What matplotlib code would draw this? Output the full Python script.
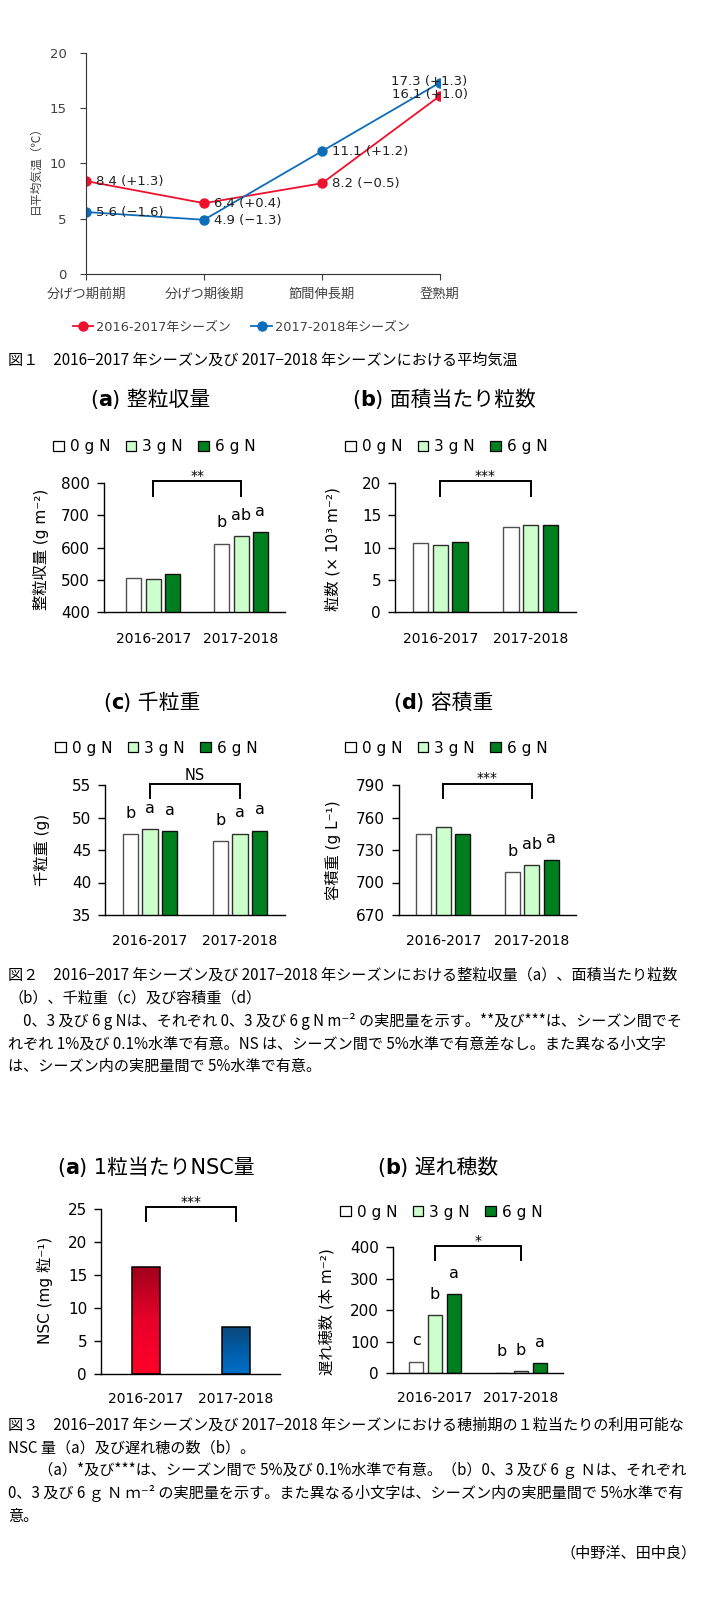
import matplotlib
matplotlib.use('Agg')
import matplotlib.pyplot as plt
import matplotlib.transforms as mtransforms
import numpy as np
from matplotlib.patches import Patch
from matplotlib.lines import Line2D
from matplotlib.colors import LinearSegmentedColormap

plt.rcParams['font.family'] = ['DejaVu Sans', 'Noto Sans CJK JP']
JP = ['Noto Sans CJK JP', 'DejaVu Sans']

# ---- data ----
stages = ['分げつ期前期', '分げつ期後期', '節間伸長期', '登熟期']
temp_1617 = [8.4, 6.4, 8.2, 16.1]
temp_1718 = [5.6, 4.9, 11.1, 17.3]
diff_1617 = ['+1.3', '+0.4', '−0.5', '+1.0']
diff_1718 = ['−1.6', '−1.3', '+1.2', '+1.3']
season_names = ['2016-2017年シーズン', '2017-2018年シーズン']

seasons = ['2016-2017', '2017-2018']
n_levels = ['0 g N', '3 g N', '6 g N']

whole_yield = [[505, 502, 517], [612, 635, 648]]
grain_num = [[10.7, 10.4, 10.8], [13.2, 13.4, 13.5]]
tgw = [[47.4, 48.2, 47.9], [46.4, 47.5, 48.0]]
vol_wt = [[744.5, 751, 744.5], [709.5, 716, 721]]
nsc = [16.3, 7.2]
late_pan = [[37, 185, 251], [2, 7, 32]]

yield_letters = [['', '', ''], ['b', 'ab', 'a']]
tgw_letters = [['b', 'a', 'a'], ['b', 'a', 'a']]
vol_letters = [['', '', ''], ['b', 'ab', 'a']]
late_letters = [['c', 'b', 'a'], ['b', 'b', 'a']]

cap1 = '図１　2016−2017 年シーズン及び 2017−2018 年シーズンにおける平均気温'
cap2 = ['図２　2016−2017 年シーズン及び 2017−2018 年シーズンにおける整粒収量（a）、面積当たり粒数',
        '（b）、千粒重（c）及び容積重（d）',
        '　0、3 及び 6 g Nは、それぞれ 0、3 及び 6 g N m⁻² の実肥量を示す。**及び***は、シーズン間でそ',
        'れぞれ 1%及び 0.1%水準で有意。NS は、シーズン間で 5%水準で有意差なし。また異なる小文字',
        'は、シーズン内の実肥量間で 5%水準で有意。']
cap3 = ['図３　2016−2017 年シーズン及び 2017−2018 年シーズンにおける穂揃期の１粒当たりの利用可能な',
        'NSC 量（a）及び遅れ穂の数（b）。',
        '　　（a）*及び***は、シーズン間で 5%及び 0.1%水準で有意。（b）0、3 及び 6 ｇ Ｎは、それぞれ',
        '0、3 及び 6 ｇ Ｎ ｍ⁻² の実肥量を示す。また異なる小文字は、シーズン内の実肥量間で 5%水準で有',
        '意。']
author = '（中野洋、田中良）'

W, H = 705, 1600
fig = plt.figure(figsize=(7.05, 16), dpi=100)


def fx(x):
    return x / W


def fy(y):
    return 1 - y / H


def px_axes(x0, y0, x1, y1):
    return fig.add_axes([x0 / W, 1 - y1 / H, (x1 - x0) / W, (y1 - y0) / H])


red, blue = '#f0102d', '#0e6db8'
txt_gray = '#404040'
cap_fs = 10.9

# ---- figure 1 : line chart ----
ax1 = px_axes(86, 52.7, 440, 274)
xs = np.arange(len(stages))
ax1.plot(xs, temp_1617, color=red, lw=1.3, marker='o', ms=6.5, zorder=3)
ax1.plot(xs, temp_1718, color=blue, lw=1.3, marker='o', ms=6.5, zorder=3)
for i in range(len(stages)):
    if i < 3:
        off, ha = (7.2, -0.5), 'left'
    else:
        off, ha = (-7.5, 0.8), 'center'
    ax1.annotate(f'{temp_1617[i]} ({diff_1617[i]})', (xs[i], temp_1617[i]), xytext=off,
                 textcoords='offset points', ha=ha, va='center', fontsize=9.5, color='#222222', zorder=4)
    ax1.annotate(f'{temp_1718[i]} ({diff_1718[i]})', (xs[i], temp_1718[i]), xytext=off,
                 textcoords='offset points', ha=ha, va='center', fontsize=9.5, color='#222222', zorder=4)
ax1.set_xlim(0, 3)
ax1.set_ylim(0, 20)
ax1.set_yticks([0, 5, 10, 15, 20])
ax1.set_xticks(xs)
ax1.set_xticklabels(stages, family=JP)
ax1.tick_params(axis='y', direction='out', length=4, width=0.8, labelsize=9.5, pad=10, colors=txt_gray)
ax1.tick_params(axis='x', direction='out', length=4, width=0.8, labelsize=9.5, pad=6, colors=txt_gray)
for s in ['top', 'right']:
    ax1.spines[s].set_visible(False)
for s in ['left', 'bottom']:
    ax1.spines[s].set_color('#333333')
    ax1.spines[s].set_linewidth(0.8)
ax1.spines['left'].set_zorder(5)
fig.text(fx(35), fy(167), '日平均気温（℃）', rotation=90, ha='center', va='center',
         fontsize=8.5, family=JP, color=txt_gray)
fig.legend(handles=[Line2D([], [], color=red, marker='o', ms=6.5, lw=1.3),
                    Line2D([], [], color=blue, marker='o', ms=6.5, lw=1.3)],
           labels=season_names, loc='center', bbox_to_anchor=(fx(241), fy(327)), ncol=2,
           frameon=False, fontsize=9.3, handlelength=1.6, handletextpad=0.2, columnspacing=1.6,
           labelcolor=txt_gray)
fig.text(fx(8), fy(360), cap1, fontsize=cap_fs, family=JP, va='center')

# ---- bar panels ----
bar_fc = ['#ffffff', '#ccffcc', '#007f1f']
bar_ec = ['#505050', '#303030', '#101010']


def panel_title(x, y, letter, rest, fs=15):
    t = fig.text(fx(x), fy(y), '(', fontsize=fs, va='center', ha='left')
    t2 = ax1.annotate(letter, xy=(1, 0), xycoords=t, ha='left', va='bottom', fontsize=fs,
                      fontweight='bold')
    ax1.annotate(') ' + rest, xy=(1, 0), xycoords=t2, ha='left', va='bottom', fontsize=fs,
                 family=['DejaVu Sans', 'Noto Sans CJK JP'])


def add_legend(ax, x, y):
    handles = [Patch(facecolor=bar_fc[j], edgecolor='black', linewidth=0.9) for j in range(3)]
    ax.legend(handles, n_levels, loc='center left', bbox_to_anchor=(fx(x), fy(y)),
              bbox_transform=fig.transFigure, ncol=3, frameon=False, fontsize=11,
              handlelength=0.7, handleheight=0.65, handletextpad=0.4, columnspacing=1.0,
              borderpad=0, borderaxespad=0)


def style_axes(ax, ylim, yticks, pad_x=14):
    ax.set_ylim(*ylim)
    ax.set_yticks(yticks)
    ax.set_xticks([0, 1])
    ax.set_xticklabels(seasons)
    ax.tick_params(axis='y', direction='out', length=5, width=1, labelsize=11, pad=5)
    ax.tick_params(axis='x', length=0, labelsize=10, pad=pad_x)
    for s in ['top', 'right']:
        ax.spines[s].set_visible(False)
    for s in ['left', 'bottom']:
        ax.spines[s].set_linewidth(1)


def bracket(ax, label, bottom=0.9, top=1.01, off=1):
    tr = mtransforms.blended_transform_factory(ax.transData, ax.transAxes)
    ax.plot([0, 0, 1, 1], [bottom, top, top, bottom], transform=tr, color='black', lw=1.4,
            clip_on=False, solid_joinstyle='miter')
    ax.annotate(label, (0.5, top), xycoords=tr, xytext=(0, off), textcoords='offset points',
                ha='center', va='baseline', fontsize=10 if label != 'NS' else 10.5)


def bar_panel(rect, vals, ylim, yticks, letters, sig, sig_off=1, xlim=(-0.5, 1.5)):
    ax = px_axes(*rect)
    vals = np.array(vals, dtype=float)
    x = np.arange(2)
    for j in range(3):
        bars = ax.bar(x + (j - 1) * 0.22, vals[:, j], width=0.17, color=bar_fc[j],
                      edgecolor=bar_ec[j], linewidth=1.0, label=n_levels[j])
        for i, b in enumerate(bars):
            if letters and letters[i][j]:
                ax.annotate(letters[i][j], (b.get_x() + b.get_width() / 2, b.get_height()),
                            xytext=(0, 11.8), textcoords='offset points', ha='center',
                            va='baseline', fontsize=11.5)
    ax.set_xlim(*xlim)
    style_axes(ax, ylim, yticks)
    bracket(ax, sig, off=sig_off)
    return ax


# (a) yield
axa = bar_panel((104, 482.7, 285, 612.3), whole_yield, (400, 800), [400, 500, 600, 700, 800],
                yield_letters, '**', xlim=(-0.56, 1.5))
panel_title(90, 400, 'a', '整粒収量')
add_legend(axa, 53, 447)
fig.text(fx(41), fy(549), '整粒収量 (g m⁻²)', rotation=90, ha='center', va='center', fontsize=11)

# (b) grain number
axb = bar_panel((395, 482.7, 576, 612.3), grain_num, (0, 20), [0, 5, 10, 15, 20],
                None, '***')
panel_title(352, 400, 'b', '面積当たり粒数')
add_legend(axb, 345, 447)
fig.text(fx(333), fy(549), '粒数 (× 10³ m⁻²)', rotation=90, ha='center', va='center', fontsize=11)

# (c) thousand grain weight
axc = bar_panel((105, 785, 285, 915), tgw, (35, 55), [35, 40, 45, 50, 55],
                tgw_letters, 'NS', sig_off=2.5)
panel_title(103, 703, 'c', '千粒重')
add_legend(axc, 55, 748)
fig.text(fx(42), fy(850), '千粒重 (g)', rotation=90, ha='center', va='center', fontsize=11)

# (d) volume weight
axd = bar_panel((399, 785, 576, 915), vol_wt, (670, 790), [670, 700, 730, 760, 790],
                vol_letters, '***')
panel_title(393, 703, 'd', '容積重')
add_legend(axd, 345, 748)
fig.text(fx(333), fy(850), '容積重 (g L⁻¹)', rotation=90, ha='center', va='center', fontsize=11)

cap2_y = [975, 998, 1021, 1044, 1066]
for t, y in zip(cap2, cap2_y):
    fig.text(fx(8), fy(y), t, fontsize=cap_fs, family=JP, va='center')

# ---- figure 3 (a) NSC ----
ax3a = px_axes(101, 1209, 280, 1374.3)
bars = ax3a.bar(np.arange(2), nsc, width=0.31, color='none', edgecolor='black', linewidth=1.1,
                zorder=3)
grads = [LinearSegmentedColormap.from_list('r', ['#ff0028', '#e8002a', '#a0001c']),
         LinearSegmentedColormap.from_list('b', ['#0070c8', '#005ca6', '#0b4677'])]
g = np.linspace(1, 0, 256).reshape(-1, 1)
for b, cm in zip(bars, grads):
    im = ax3a.imshow(g, extent=[b.get_x(), b.get_x() + b.get_width(), 0, b.get_height()],
                     aspect='auto', cmap=cm, origin='upper', zorder=2)
    im.set_clip_path(b)
ax3a.set_xlim(-0.5, 1.49)
style_axes(ax3a, (0, 25), [0, 5, 10, 15, 20, 25], pad_x=13)
bracket(ax3a, '***', bottom=0.927)
panel_title(57, 1168, 'a', '1粒当たりNSC量')
fig.text(fx(45), fy(1290), 'NSC (mg 粒⁻¹)', rotation=90, ha='center', va='center', fontsize=11)

# ---- figure 3 (b) late panicles ----
ax3b = bar_panel((393, 1247.3, 563, 1373.3), late_pan, (0, 400), [0, 100, 200, 300, 400],
                 late_letters, '*', xlim=(-0.49, 1.49))
ax3b.tick_params(axis='x', pad=13)
panel_title(377, 1168, 'b', '遅れ穂数')
add_legend(ax3b, 340, 1212)
fig.text(fx(327), fy(1312), '遅れ穂数 (本 m⁻²)', rotation=90, ha='center', va='center', fontsize=11)

cap3_y = [1425, 1448, 1470, 1493, 1516]
for t, y in zip(cap3, cap3_y):
    fig.text(fx(8), fy(y), t, fontsize=cap_fs, family=JP, va='center')
fig.text(fx(697), fy(1553), author, fontsize=cap_fs, family=JP, va='center', ha='right')

fig.savefig('out.png', dpi=100)
